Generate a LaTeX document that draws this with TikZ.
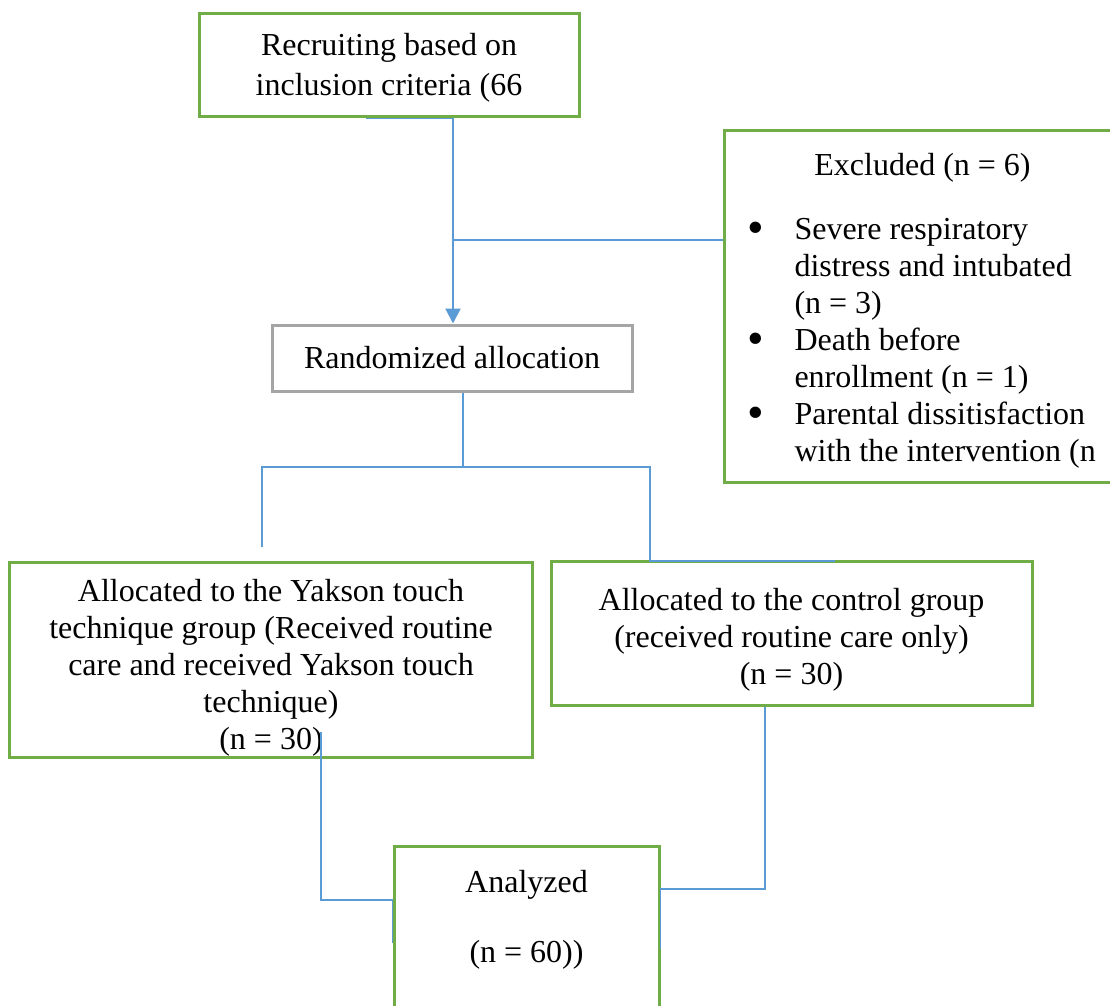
\documentclass[tikz,border=0pt]{standalone}
\usepackage{fontspec}
\setmainfont{Liberation Serif}
\usetikzlibrary{arrows.meta,calc}

\definecolor{boxgreen}{RGB}{112,173,71}
\definecolor{boxgrey}{RGB}{165,165,165}
\definecolor{linkblue}{RGB}{91,155,213}

\newcommand{\bulletitem}{\hspace*{9pt}\makebox[19pt][l]{\raisebox{-1.6pt}{\fontsize{19}{19}\selectfont\textbullet}}}
\newcommand{\itemcont}{\hspace*{28pt}}

\tikzset{
  greenbox/.style={draw=boxgreen, line width=1.2pt, align=center, inner sep=0pt},
  greybox/.style={draw=boxgrey, line width=1.2pt, align=center, inner sep=0pt},
  link/.style={draw=linkblue, line width=0.5pt},
  mainlink/.style={draw=linkblue, line width=0.9pt, -{Triangle[width=6pt,length=6pt]}}
}

\begin{document}
\begin{tikzpicture}[x=0.4pt, y=-0.4pt, font=\fontsize{12.8}{14.8}\selectfont]
  % Page frame
  \useasboundingbox (0,0) rectangle (1110,1005);
  \clip (0,0) rectangle (1110,1005);

  % Boxes
  \node[greenbox, minimum width=152pt, minimum height=41.2pt] (recruit) at (389,65.5)
    {\rule{0pt}{11pt}Recruiting based on\\[1.2pt]inclusion criteria (66};
  \node[greenbox, anchor=north west, minimum width=158.4pt, minimum height=140.8pt,
        align=left] (excl) at (723,129)
    {\rule{0pt}{12pt}\makebox[158.4pt]{Excluded (n = 6)}\\[10.8pt]
     \bulletitem Severe respiratory\\
     \itemcont distress and intubated\\
     \itemcont (n = 3)\\
     \bulletitem Death before\\
     \itemcont enrollment (n = 1)\\
     \bulletitem Parental dissitisfaction\\
     \itemcont with the intervention (n};
  \node[greybox, minimum width=144pt, minimum height=26.4pt] (rand) at (452,358)
    {Randomized allocation};
  \node[greenbox, minimum width=208.8pt, minimum height=78pt] (yakson) at (271,659.5)
    {\rule{0pt}{15.5pt}Allocated to the Yakson touch\\technique group (Received routine\\care and received Yakson touch\\technique)\\(n = 30)};
  \node[greenbox, minimum width=192.4pt, minimum height=57.6pt] (control) at (791.5,633)
    {\rule{0pt}{14pt}Allocated to the control group\\(received routine care only)\\(n = 30)};
  \node[greenbox, anchor=north, minimum width=106pt, minimum height=84pt] (analyzed) at (526.5,845)
    {Analyzed\\[13.2pt](n = 60))\\[13.2pt]\mbox{}};

  % Connectors
  \coordinate (split) at (453,240);
  \draw[link] ($(recruit.south west)+(168,0)$) -- (recruit.south -| split);
  \draw[mainlink] (recruit.south -| split) -- (rand.north -| split);
  \draw[link] (split) -- (split -| excl.west);

  \coordinate (fork) at (463,467);
  \coordinate (ldrop) at (262,547);
  \coordinate (rdrop) at (650,561);
  \draw[link] (rand.south -| fork) -- (fork);
  \draw[link] (ldrop) |- (fork) -| (rdrop) -- ++(185,0);

  \coordinate (lstart) at (321,732);
  \coordinate (ljoin) at (321,900);
  \draw[link] (lstart) |- (ljoin -| analyzed.west) -- ++(0,43);
  \coordinate (rjoin) at (765,889);
  \draw[link] (control.south -| rjoin) |- (rjoin -| analyzed.east) -- ++(0,60);
\end{tikzpicture}
\end{document}
